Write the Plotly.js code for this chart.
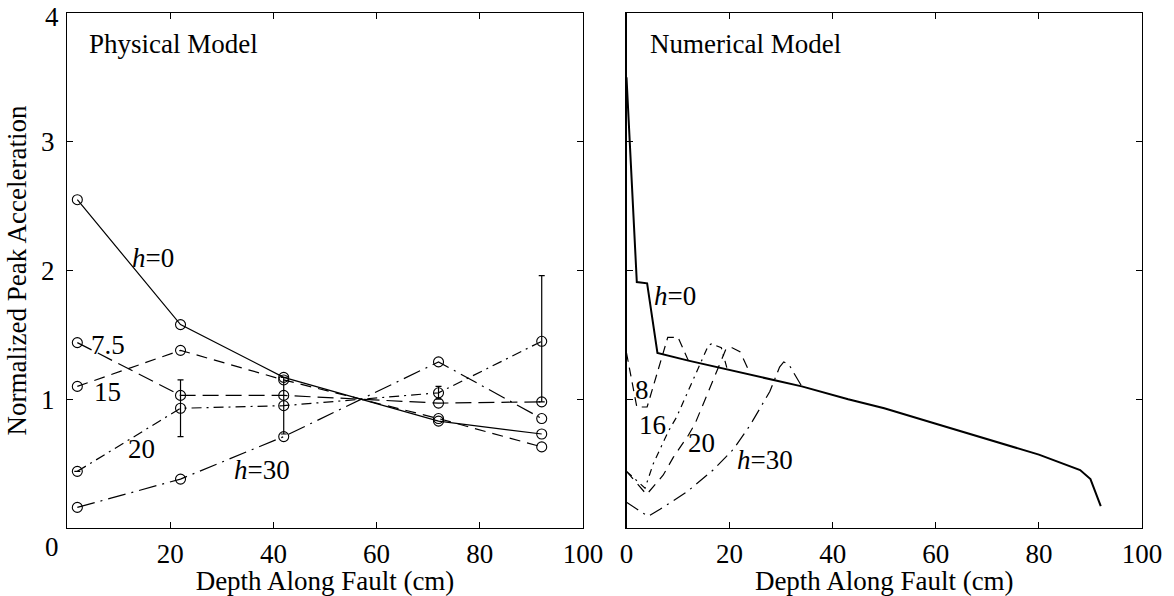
<!DOCTYPE html>
<html>
<head>
<meta charset="utf-8">
<script src="https://cdn.plot.ly/plotly-3.0.1.min.js"></script>
<style>
  html, body { margin: 0; padding: 0; background: #fff; }
  #chart { width: 1174px; height: 596px; }
</style>
</head>
<body>
<div id="chart"></div>
<script>
// Physical model: measured peak acceleration at the gauge depths (cm)
const physDepth = [2, 22, 42, 72, 92];
const physH0  = [2.55, 1.58, 1.17, 0.83, 0.73];
const physH75 = [1.44, 1.03, 1.03, 0.97, 0.98];
const physH15 = [1.10, 1.38, 1.15, 0.85, 0.63];
const physH20 = [0.44, 0.93, 0.95, 1.05, 1.45];
const physH20ErrPlus  = [0, 0.22, 0.22, 0.05, 0.51];
const physH20ErrMinus = [0, 0.22, 0.22, 0.05, 0.47];
const physH30 = [0.16, 0.38, 0.71, 1.29, 0.85];

// Numerical model profiles
const numH0Depth  = [0, 2, 4, 6, 12, 22, 34, 43, 50, 60, 70, 80, 88, 90, 92];
const numH0       = [3.5, 1.91, 1.90, 1.36, 1.30, 1.21, 1.10, 1.00, 0.93, 0.81, 0.69, 0.57, 0.45, 0.38, 0.17];
const numH8Depth  = [0, 2, 4, 8, 10, 12];
const numH8       = [1.36, 0.94, 0.94, 1.48, 1.48, 1.30];
const numH16Depth = [0, 3.6, 5.2, 6.8, 8.1, 9.7, 15.9, 16.5, 18.4, 19.5];
const numH16      = [0.44, 0.31, 0.50, 0.64, 0.75, 0.86, 1.42, 1.43, 1.40, 1.24];
const numH20Depth = [0, 3.9, 7.1, 9.1, 12, 13.3, 19.4, 20.5, 22, 24];
const numH20      = [0.44, 0.26, 0.41, 0.55, 0.72, 0.81, 1.40, 1.40, 1.37, 1.20];
const numH30Depth = [0, 4.2, 6.5, 11.7, 16.8, 20.7, 24, 27.8, 29.7, 30.5, 31.5, 34];
const numH30      = [0.20, 0.09, 0.145, 0.28, 0.45, 0.61, 0.80, 1.06, 1.25, 1.29, 1.27, 1.10];

const xTicks = [0, 20, 40, 60, 80, 100];
const yTicks = [0, 1, 2, 3, 4];

const FONT = 'Liberation Serif, Times New Roman, serif';
const FS = 27;
const INK = '#000';

function physTrace(y, dash, extra) {
  return Object.assign({
    type: 'scatter', mode: 'lines+markers', x: physDepth, y: y,
    xaxis: 'x', yaxis: 'y',
    line: { color: INK, width: 1.2, dash: dash },
    marker: { symbol: 'circle-open', size: 10, color: INK, line: { width: 1.1, color: INK } },
    hoverinfo: 'skip', showlegend: false
  }, extra || {});
}

function numTrace(x, y, dash, width) {
  return {
    type: 'scatter', mode: 'lines', x: x, y: y,
    xaxis: 'x2', yaxis: 'y2',
    line: { color: INK, width: width, dash: dash },
    hoverinfo: 'skip', showlegend: false
  };
}

const traces = [
  physTrace(physH0, 'solid'),
  physTrace(physH75, '16px,7px'),
  physTrace(physH15, '11px,7px'),
  physTrace(physH20, '10px,5px,2px,5px', {
    error_y: { type: 'data', symmetric: false, array: physH20ErrPlus, arrayminus: physH20ErrMinus,
               color: INK, thickness: 1.2, width: 3 }
  }),
  physTrace(physH30, '18px,6px,2px,6px'),

  numTrace(numH8Depth, numH8, '9px,6px', 1.2),
  numTrace(numH16Depth, numH16, '7px,5px,2px,5px', 1.2),
  numTrace(numH20Depth, numH20, '10px,7px', 1.2),
  numTrace(numH30Depth, numH30, '14px,6px,2px,6px', 1.2),
  numTrace(numH0Depth, numH0, 'solid', 2)
];

const W = 1174, H = 596;
const PLOT_H = 515;
const axisFont = { family: FONT, size: FS, color: INK };

function xAxis(domain, anchor, labels) {
  return {
    domain: domain, anchor: anchor, range: [0, 100],
    tickvals: xTicks, ticktext: labels,
    ticks: 'inside', ticklen: 6, tickwidth: 1, tickcolor: INK,
    showline: true, linecolor: INK, linewidth: 1.2, mirror: 'ticks',
    showgrid: false, zeroline: false, fixedrange: true,
    tickfont: axisFont, ticklabelstandoff: 1, ticklabeloverflow: 'allow',
    title: { text: 'Depth Along Fault (cm)', font: axisFont, standoff: 3 }
  };
}

function yAxis(anchor, labels, title) {
  const ax = {
    domain: [0, 1], anchor: anchor, range: [0, 4],
    tickvals: yTicks,
    ticks: 'inside', ticklen: 6, tickwidth: 1, tickcolor: INK,
    showline: true, linecolor: INK, linewidth: 1.2, mirror: 'ticks',
    showgrid: false, zeroline: false, fixedrange: true,
    tickfont: axisFont, ticklabelstandoff: 6, ticklabeloverflow: 'allow'
  };
  if (labels) { ax.ticktext = labels; } else { ax.showticklabels = false; }
  if (title) { ax.title = { text: title, font: axisFont, standoff: 6 }; }
  return ax;
}

function label(text, x, y, xref, yref, anchor) {
  return {
    text: text, x: x, y: y, xref: xref, yref: yref,
    xanchor: anchor || 'center', yanchor: 'middle',
    showarrow: false, font: { family: FONT, size: FS, color: INK }
  };
}

const annotations = [
  // Physical model
  label('Physical Model', 3.9, 3.76, 'x', 'y', 'left'),
  label('<i>h</i>=0', 16.7, 2.10, 'x', 'y'),
  label('7.5', 7.9, 1.42, 'x', 'y'),
  label('15', 7.8, 1.06, 'x', 'y'),
  label('20', 14.5, 0.61, 'x', 'y'),
  label('<i>h</i>=30', 37.8, 0.45, 'x', 'y'),
  // End labels of the vertical scale: 0 sits level with the depth labels,
  // 4 is nudged down so it stays inside the page
  label('0', 52 / W, -19 / PLOT_H, 'paper', 'paper'),
  label('4', 52 / W, 1 - 4 / PLOT_H, 'paper', 'paper'),
  // Numerical model
  label('Numerical Model', 4.2, 3.76, 'x2', 'y2', 'left'),
  label('<i>h</i>=0', 9.4, 1.80, 'x2', 'y2'),
  label('8', 3.0, 1.07, 'x2', 'y2'),
  label('16', 5.1, 0.80, 'x2', 'y2'),
  label('20', 14.6, 0.66, 'x2', 'y2'),
  label('<i>h</i>=30', 26.8, 0.53, 'x2', 'y2')
];

const layout = {
  width: W, height: H,
  margin: { l: 0, r: 0, t: 13, b: 68, pad: 0 },
  paper_bgcolor: '#fff', plot_bgcolor: '#fff',
  font: { family: FONT, size: FS, color: INK },
  showlegend: false,
  xaxis: xAxis([67 / W, 583 / W], 'y', ['', '20', '40', '60', '80', '100']),
  yaxis: yAxis('x', ['', '1', '2', '3', ''], 'Normalized Peak Acceleration'),
  xaxis2: xAxis([626.5 / W, 1142 / W], 'y2', ['0', '20', '40', '60', '80', '100']),
  yaxis2: yAxis('x2', null, null),
  annotations: annotations
};

Plotly.newPlot('chart', traces, layout, { staticPlot: true, displayModeBar: false });
</script>
</body>
</html>
